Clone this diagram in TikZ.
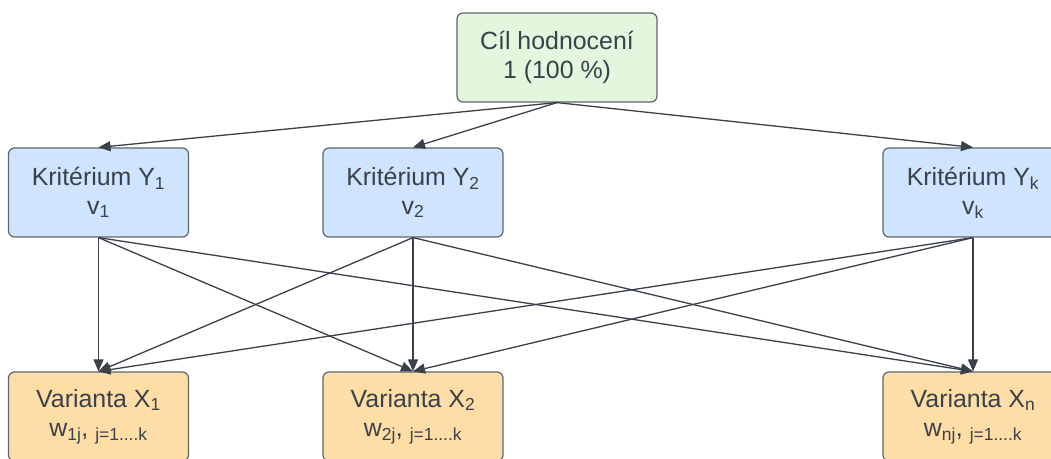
\documentclass[tikz,border=0pt]{standalone}
\usepackage{fontspec}
\setmainfont{Liberation Sans}
\usetikzlibrary{arrows.meta}
\definecolor{edge}{HTML}{3A414A}
\definecolor{ink}{HTML}{3A414A}
\definecolor{boxline}{HTML}{5E6670}
\definecolor{goalfill}{HTML}{E3F7DE}
\definecolor{critfill}{HTML}{CFE4FF}
\definecolor{varfill}{HTML}{FFDDA6}
\begin{document}
\begin{tikzpicture}[x=1bp,y=-1bp,
  box/.style={draw=boxline, line width=1.2bp, rounded corners=6bp,
    minimum width=180bp, minimum height=89bp, inner sep=0pt,
    align=center, text=ink, font=\fontsize{25}{29}\selectfont},
  goalbox/.style={box, fill=goalfill, minimum width=200bp},
  critbox/.style={box, fill=critfill},
  varbox/.style={box, fill=varfill},
  link/.style={draw=edge, line width=1.3bp, -{Triangle[length=12bp,width=10bp]}}]
\useasboundingbox (0,0) rectangle (1051,459);
\clip (0,0) rectangle (1051,459);
\fill[white] (0,0) rectangle (1051,459);

% goal
\node[goalbox] (goal) at (557,57.5) {Cíl hodnocení\\1 (100 \%)};

% criteria
\node[critbox] (k1) at (98.5,192.5) {Kritérium Y\textsubscript{1}\\v\textsubscript{1}};
\node[critbox] (k2) at (413,192.5) {Kritérium Y\textsubscript{2}\\v\textsubscript{2}};
\node[critbox] (kk) at (973,192.5) {Kritérium Y\textsubscript{k}\\v\textsubscript{k}};

% variants
\node[varbox] (v1) at (98.5,416.5) {Varianta X\textsubscript{1}\\w\textsubscript{1j}, \textsubscript{j=1....k}};
\node[varbox] (v2) at (413,416.5) {Varianta X\textsubscript{2}\\w\textsubscript{2j}, \textsubscript{j=1....k}};
\node[varbox] (vn) at (973,416.5) {Varianta X\textsubscript{n}\\w\textsubscript{nj}, \textsubscript{j=1....k}};

% goal to criteria
\foreach \k in {k1,k2,kk}
  \draw[link] (goal.south) -- (\k.north);

% criteria to variants
\foreach \k in {k1,k2,kk}
  \foreach \v in {v1,v2,vn}
    \draw[link] (\k.south) -- (\v.north);
\end{tikzpicture}
\end{document}
